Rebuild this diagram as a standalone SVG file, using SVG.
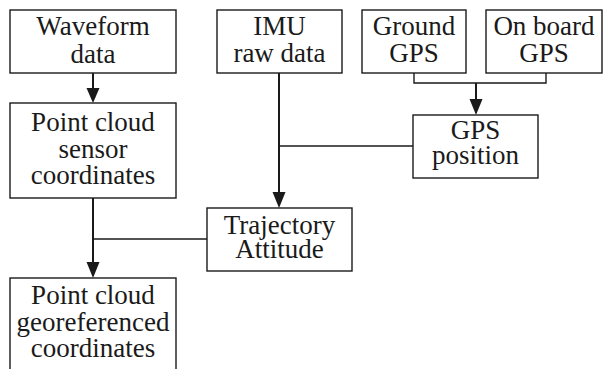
<svg xmlns="http://www.w3.org/2000/svg" width="604" height="369" viewBox="0 0 604 369">
<defs>
<style>
.box{fill:#fff;stroke:#1a1a1a;stroke-width:1.4}
.ln{fill:none;stroke:#1a1a1a;stroke-width:1.4}
.ar{fill:none;stroke:#1a1a1a;stroke-width:2}
.hd{fill:#1a1a1a}
</style>
</defs>
<rect width="604" height="369" fill="#fff"/>
<g id="connectors">
<path class="ar" d="M93,73 V89"/>
<path class="ar" d="M93,198 V264"/>
<path class="ln" d="M207,239 H93"/>
<path class="ar" d="M279,73 V194"/>
<path class="ln" d="M413,146 H279"/>
<path class="ln" d="M414,73 V83 H546 V73"/>
<path class="ar" d="M476,83 V101"/>
<polygon class="hd" points="86.5,88 99.5,88 93,103"/>
<polygon class="hd" points="86.5,262 99.5,262 93,278"/>
<polygon class="hd" points="272.5,192 285.5,192 279,208"/>
<polygon class="hd" points="469.5,99 482.5,99 476,115"/>
</g>
<g id="waveform">
<rect class="box" x="10" y="10" width="166" height="63"/>
<text x="93" y="35" style="font-family:'Liberation Serif',serif !important;font-size:27px;fill:#1a1a1a;text-anchor:middle">Waveform</text>
<text x="93" y="63" style="font-family:'Liberation Serif',serif !important;font-size:27px;fill:#1a1a1a;text-anchor:middle">data</text>
</g>
<g id="imu">
<rect class="box" x="217" y="10" width="125" height="63"/>
<text x="279.5" y="35" style="font-family:'Liberation Serif',serif !important;font-size:27px;fill:#1a1a1a;text-anchor:middle">IMU</text>
<text x="279.5" y="62" style="font-family:'Liberation Serif',serif !important;font-size:27px;fill:#1a1a1a;text-anchor:middle">raw data</text>
</g>
<g id="ground">
<rect class="box" x="362" y="10" width="104" height="63"/>
<text x="414" y="35" style="font-family:'Liberation Serif',serif !important;font-size:27px;fill:#1a1a1a;text-anchor:middle">Ground</text>
<text x="414" y="62" style="font-family:'Liberation Serif',serif !important;font-size:27px;fill:#1a1a1a;text-anchor:middle">GPS</text>
</g>
<g id="onboard">
<rect class="box" x="486" y="10" width="116" height="63"/>
<text x="544" y="35" style="font-family:'Liberation Serif',serif !important;font-size:27px;fill:#1a1a1a;text-anchor:middle">On board</text>
<text x="544" y="62" style="font-family:'Liberation Serif',serif !important;font-size:27px;fill:#1a1a1a;text-anchor:middle">GPS</text>
</g>
<g id="gpspos">
<rect class="box" x="413" y="115" width="125" height="63"/>
<text x="475.5" y="139" style="font-family:'Liberation Serif',serif !important;font-size:27px;fill:#1a1a1a;text-anchor:middle">GPS</text>
<text x="475.5" y="164" style="font-family:'Liberation Serif',serif !important;font-size:27px;fill:#1a1a1a;text-anchor:middle">position</text>
</g>
<g id="sensor">
<rect class="box" x="10" y="103" width="166" height="95"/>
<text x="93" y="131" style="font-family:'Liberation Serif',serif !important;font-size:27px;fill:#1a1a1a;text-anchor:middle">Point cloud</text>
<text x="93" y="158" style="font-family:'Liberation Serif',serif !important;font-size:27px;fill:#1a1a1a;text-anchor:middle">sensor</text>
<text x="93" y="184" style="font-family:'Liberation Serif',serif !important;font-size:27px;fill:#1a1a1a;text-anchor:middle">coordinates</text>
</g>
<g id="trajectory">
<rect class="box" x="207" y="208" width="145" height="63"/>
<text x="279.5" y="234" style="font-family:'Liberation Serif',serif !important;font-size:27px;fill:#1a1a1a;text-anchor:middle">Trajectory</text>
<text x="279.5" y="258" style="font-family:'Liberation Serif',serif !important;font-size:27px;fill:#1a1a1a;text-anchor:middle">Attitude</text>
</g>
<g id="georef">
<rect class="box" x="10" y="278" width="166" height="100"/>
<text x="93" y="304" style="font-family:'Liberation Serif',serif !important;font-size:27px;fill:#1a1a1a;text-anchor:middle">Point cloud</text>
<text x="93" y="331" style="font-family:'Liberation Serif',serif !important;font-size:27px;fill:#1a1a1a;text-anchor:middle">georeferenced</text>
<text x="93" y="357" style="font-family:'Liberation Serif',serif !important;font-size:27px;fill:#1a1a1a;text-anchor:middle">coordinates</text>
</g>
</svg>
